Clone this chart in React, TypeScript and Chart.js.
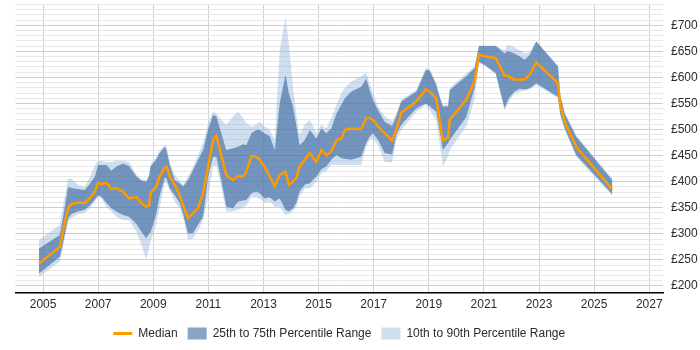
import { useEffect, useRef } from "react";
import { Chart, registerables } from "chart.js";

Chart.register(...registerables);

// Sample dates (decimal years) shared by every series
const years = [
  2004.85, 2005.61, 2005.73, 2005.91, 2006.03, 2006.27, 2006.51, 2006.69, 2006.88, 2007.0,
  2007.12, 2007.3, 2007.48, 2007.66, 2007.9, 2008.12, 2008.39, 2008.57, 2008.75, 2008.85,
  2008.9, 2009.11, 2009.23, 2009.42, 2009.48, 2009.6, 2009.78, 2009.96, 2010.08, 2010.26,
  2010.44, 2010.62, 2010.81, 2010.99, 2011.17, 2011.29, 2011.47, 2011.65, 2011.89, 2012.08,
  2012.26, 2012.38, 2012.56, 2012.74, 2012.86, 2013.04, 2013.23, 2013.41, 2013.59, 2013.8,
  2013.92, 2014.07, 2014.19, 2014.31, 2014.5, 2014.68, 2014.92, 2015.1, 2015.28, 2015.46,
  2015.65, 2015.83, 2015.95, 2016.19, 2016.55, 2016.73, 2016.85, 2016.97, 2017.16, 2017.4,
  2017.67, 2017.82, 2018.0, 2018.55, 2018.89, 2019.03, 2019.27, 2019.39, 2019.51, 2019.7,
  2019.76, 2020.36, 2020.66, 2020.82, 2021.09, 2021.43, 2021.75, 2021.87, 2021.99, 2022.11,
  2022.3, 2022.48, 2022.66, 2022.9, 2023.69, 2023.77, 2023.93, 2024.35, 2025.66,
];

// Daily rate percentiles (GBP)
const p10 = [
  217, 247, 275, 323, 330, 338, 340, 348, 362, 371,
  368, 352, 343, 333, 326, 326, 304, 279, 250, 275,
  285, 320, 350, 398, 398, 383, 362, 349, 333, 288,
  291, 307, 327, 371, 430, 430, 390, 343, 343, 346,
  350, 355, 371, 370, 368, 359, 362, 352, 352, 336,
  338, 343, 352, 371, 387, 387, 400, 416, 420, 432,
  432, 432, 432, 432, 432, 467, 480, 483, 470, 438,
  437, 480, 499, 534, 547, 537, 518, 474, 429, 448,
  461, 506, 557, 627, 620, 606, 537, 550, 560, 568,
  573, 575, 577, 585, 560, 527, 500, 448, 373,
];

const p25 = [
  224, 256, 285, 330, 338, 343, 346, 354, 366, 374,
  371, 359, 349, 343, 336, 333, 319, 304, 291, 301,
  302, 338, 372, 408, 406, 387, 374, 359, 339, 301,
  301, 317, 333, 410, 448, 448, 403, 352, 349, 362,
  364, 365, 378, 381, 378, 368, 370, 362, 368, 346,
  343, 349, 359, 381, 394, 397, 410, 424, 429, 442,
  451, 445, 444, 442, 448, 474, 486, 493, 480, 455,
  452, 490, 509, 541, 550, 545, 534, 499, 461, 474,
  480, 524, 580, 630, 622, 608, 541, 557, 566, 573,
  578, 577, 579, 589, 563, 530, 503, 451, 376,
];

const median = [
  243, 275, 307, 349, 357, 360, 359, 368, 381, 398,
  395, 398, 386, 388, 381, 368, 370, 359, 352, 355,
  378, 391, 410, 426, 429, 410, 394, 374, 355, 330,
  339, 349, 378, 429, 480, 488, 451, 413, 403, 411,
  410, 419, 449, 448, 442, 429, 410, 391, 413, 419,
  394, 400, 407, 429, 442, 455, 438, 461, 451, 458,
  480, 483, 499, 502, 501, 522, 522, 519, 506, 493,
  479, 499, 532, 554, 577, 573, 560, 519, 479, 485,
  519, 557, 592, 644, 640, 637, 603, 603, 599, 596,
  596, 596, 605, 629, 589, 547, 515, 467, 385,
];

const p75 = [
  272, 298, 333, 390, 388, 386, 384, 395, 410, 432,
  432, 432, 421, 429, 435, 430, 410, 402, 400, 411,
  428, 443, 455, 467, 461, 432, 403, 397, 391, 403,
  422, 441, 461, 499, 528, 525, 493, 461, 464, 467,
  472, 470, 493, 499, 499, 493, 487, 461, 551, 605,
  570, 544, 509, 470, 480, 499, 483, 502, 493, 502,
  531, 548, 560, 573, 582, 598, 576, 557, 537, 515,
  507, 525, 554, 573, 614, 613, 586, 563, 544, 544,
  576, 602, 618, 660, 660, 660, 646, 650, 648, 646,
  640, 634, 643, 669, 621, 565, 531, 486, 403,
];

const p90 = [
  288, 317, 355, 406, 406, 394, 390, 408, 432, 440,
  440, 438, 438, 441, 440, 438, 413, 405, 403, 413,
  434, 447, 460, 470, 468, 438, 413, 403, 394, 410,
  428, 451, 474, 512, 534, 531, 518, 509, 525, 534,
  522, 512, 506, 509, 515, 506, 500, 480, 653, 715,
  666, 582, 531, 490, 509, 519, 493, 509, 502, 522,
  548, 570, 580, 592, 602, 610, 589, 570, 544, 525,
  516, 531, 557, 576, 618, 616, 590, 566, 546, 548,
  580, 608, 621, 661, 661, 661, 652, 663, 660, 658,
  652, 646, 648, 670, 622, 567, 534, 489, 406,
];

// Axis ticks
const xTickYears = [2005, 2007, 2009, 2011, 2013, 2015, 2017, 2019, 2021, 2023, 2025, 2027];
const yTickLabels = [200, 250, 300, 350, 400, 450, 500, 550, 600, 650, 700];
const yGridStep = 10;
const yGridTop = 740;

const FONT = "'Liberation Sans', Arial, sans-serif";
const TEXT = "#2b2b2b";
const ORANGE = "#ff9900";
const DARK_BAND = "rgba(40, 90, 150, 0.55)";
const LIGHT_BAND = "rgba(150, 185, 220, 0.45)";

const toPoints = (vals: number[]) => years.map((x, i) => ({ x, y: vals[i] }));

export default function App() {
  const canvasRef = useRef<HTMLCanvasElement | null>(null);

  useEffect(() => {
    const canvas = canvasRef.current;
    if (!canvas) return;

    const band = (label: string, vals: number[], color: string, fill: any) => ({
      label,
      data: toPoints(vals),
      borderWidth: 0,
      borderColor: "rgba(0,0,0,0)",
      backgroundColor: color,
      pointRadius: 0,
      pointHoverRadius: 0,
      tension: 0,
      fill,
    });

    const chart = new Chart(canvas, {
      type: "line",
      data: {
        datasets: [
          {
            label: "Median",
            data: toPoints(median),
            borderColor: ORANGE,
            backgroundColor: ORANGE,
            borderWidth: 2.5,
            pointRadius: 0,
            pointHoverRadius: 0,
            tension: 0,
            fill: false,
          },
          band("25th to 75th Percentile Range", p75, DARK_BAND, "+1"),
          band("25th Percentile", p25, "rgba(0,0,0,0)", false),
          band("10th to 90th Percentile Range", p90, LIGHT_BAND, "+1"),
          band("10th Percentile", p10, "rgba(0,0,0,0)", false),
        ],
      },
      options: {
        animation: false,
        responsive: false,
        devicePixelRatio: 1,
        events: [],
        layout: { padding: { top: 4.4, left: 15.5, right: 0, bottom: 0.5 } },
        plugins: {
          tooltip: { enabled: false },
          legend: {
            position: "bottom",
            fullSize: false,
            labels: {
              usePointStyle: true,
              pointStyleWidth: 19,
              boxHeight: 12,
              padding: 10,
              color: TEXT,
              font: { family: FONT, size: 12 },
              generateLabels: () => [
                {
                  text: "Median",
                  fillStyle: ORANGE,
                  strokeStyle: ORANGE,
                  lineWidth: 3,
                  pointStyle: "line",
                  datasetIndex: 0,
                  hidden: false,
                  fontColor: TEXT,
                },
                {
                  text: "25th to 75th Percentile Range",
                  fillStyle: DARK_BAND,
                  strokeStyle: "rgba(0,0,0,0)",
                  lineWidth: 0,
                  pointStyle: "rect",
                  datasetIndex: 1,
                  hidden: false,
                  fontColor: TEXT,
                },
                {
                  text: "10th to 90th Percentile Range",
                  fillStyle: LIGHT_BAND,
                  strokeStyle: "rgba(0,0,0,0)",
                  lineWidth: 0,
                  pointStyle: "rect",
                  datasetIndex: 3,
                  hidden: false,
                  fontColor: TEXT,
                },
              ],
            },
          },
        },
        scales: {
          x: {
            type: "linear",
            min: 2004,
            max: 2027.5,
            afterBuildTicks: (scale: any) => {
              scale.ticks = xTickYears.map((value) => ({ value }));
            },
            afterFit: (scale: any) => {
              scale.height = 25;
              scale.paddingLeft = 0;
              scale.paddingRight = 0;
            },
            ticks: {
              autoSkip: false,
              maxRotation: 0,
              padding: 5,
              color: TEXT,
              font: { family: FONT, size: 12 },
              callback: (v: any) => String(v),
            },
            grid: { color: "#d3d3d3", lineWidth: 1, drawTicks: false },
            border: { display: true, color: "#000000", width: 1.5 },
          },
          y: {
            type: "linear",
            position: "right",
            min: 187.5,
            max: yGridTop,
            afterBuildTicks: (scale: any) => {
              const ticks = [];
              for (let v = yTickLabels[0]; v <= yGridTop; v += yGridStep) ticks.push({ value: v });
              scale.ticks = ticks;
            },
            afterFit: (scale: any) => {
              scale.width = 37;
              scale.paddingTop = 0;
              scale.paddingBottom = 0;
            },
            ticks: {
              autoSkip: false,
              padding: 8,
              color: TEXT,
              font: { family: FONT, size: 12 },
              callback: (v: any) => (yTickLabels.includes(Number(v)) ? "£" + v : ""),
            },
            grid: {
              drawTicks: false,
              lineWidth: 1,
              color: (ctx: any) =>
                ctx.tick && ctx.tick.value % 50 === 0 ? "#cccccc" : "#e8e8e8",
            },
            border: { display: false },
          },
        },
      },
    } as any);

    return () => chart.destroy();
  }, []);

  return (
    <div style={{ position: "absolute", left: 0, top: 0, width: 700, height: 350 }}>
      <canvas ref={canvasRef} width={700} height={350} style={{ width: 700, height: 350 }} />
    </div>
  );
}
